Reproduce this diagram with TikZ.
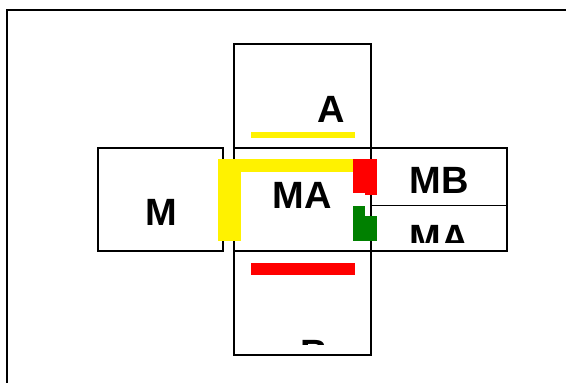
\documentclass[tikz,border=0pt]{standalone}
\usepackage{fontspec}
\setmainfont{Liberation Sans}
\begin{document}
\begin{tikzpicture}[x=1pt,y=-1pt,
  box/.style={draw=black,line width=1.8pt,inner sep=0pt},
  lbl/.style={anchor=base,inner sep=0pt,font=\fontsize{38}{40}\selectfont\bfseries},
  bar/.style={inner sep=0pt,draw=none}]
\useasboundingbox (0,0) rectangle (566,383);
% outer frame (cropped)
\draw[line width=2pt] (7,400) -- (7,10) -- (580,10);
% boxes
\node[box,minimum width=137pt,minimum height=104pt] (boxA) at (302.5,96) {};
\node[box,minimum width=137pt,minimum height=103pt] (boxMA) at (302.5,199.5) {};
\node[box,minimum width=137pt,minimum height=104pt] (boxB) at (302.5,303) {};
\node[box,minimum width=125pt,minimum height=103pt] (boxM) at (160.5,199.5) {};
\node[box,minimum width=136pt,minimum height=57.5pt] (boxMB) at (439,176.75) {};
\node[box,minimum width=136pt,minimum height=45.5pt] (boxMA2) at (439,228.25) {};
% labels
\node[lbl] (tA) at (331,122) {A};
\node[lbl] (tMA) at (302.5,208) {MA};
\node[lbl] (tM) at (161,225) {M};
\node[lbl] (tMB) at (439.5,193) {MB};
\begin{scope}
\clip (372,207) rectangle (506,242);
\node[lbl] (tMA2) at (439,251) {MA};
\end{scope}
\begin{scope}
\clip (235,252) rectangle (370,344);
\node[lbl] (tB) at (314,366) {B};
\end{scope}
% coloured bars
\fill[yellow] (251,132) rectangle (355,138);
\fill[red] (251,263) rectangle (355,275);
\fill[yellow] (218,159) rectangle (355,172);
\fill[yellow] (218,159) rectangle (241,241);
\fill[red] (353,159) rectangle (365,193);
\fill[red] (365,159) rectangle (377,195);
\fill[green!50!black] (353,206) rectangle (365,241);
\fill[green!50!black] (365,216) rectangle (377,241);
\end{tikzpicture}
\end{document}
